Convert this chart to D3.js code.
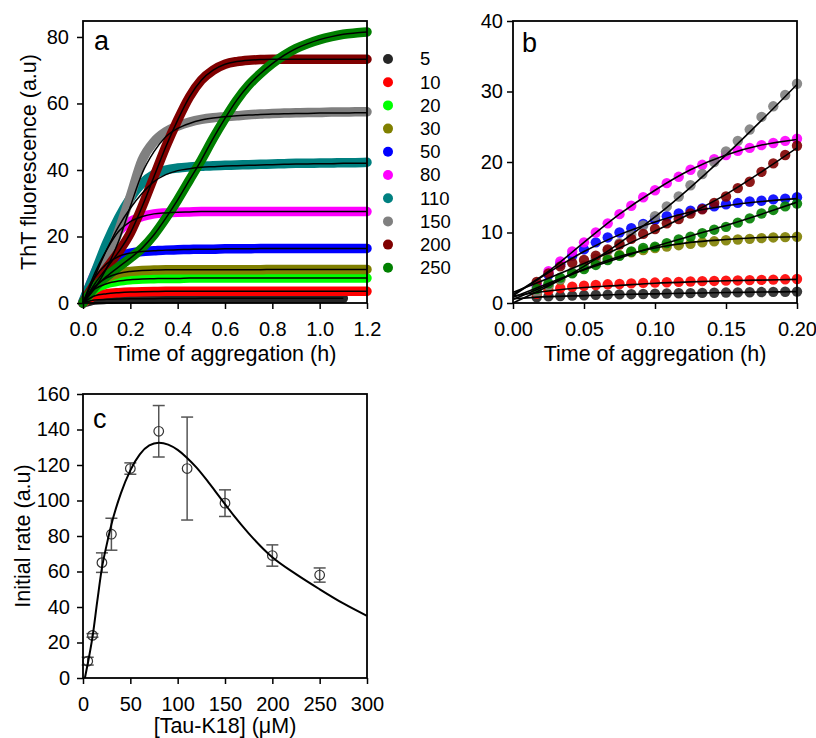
<!DOCTYPE html>
<html>
<head>
<meta charset="utf-8">
<script src="https://cdn.jsdelivr.net/npm/d3@7"></script>
<style>
body { margin: 0; background: #fff; }
svg { font-family: "Liberation Sans", Arial, sans-serif; }
</style>
</head>
<body>
<div id="vis"></div>
<script>
// concentrations of Tau-K18 (uM) and their colours
const concentrations = [5, 10, 20, 30, 50, 80, 110, 150, 200, 250]
const colors = ['#262626', '#ff0000', '#00ff00', '#808000', '#0000ff', '#ff00ff', '#008080', '#808080', '#800000', '#008000']

// panel a : ThT fluorescence vs time (h)
const timesA = [0, 0.05, 0.1, 0.15, 0.2, 0.25, 0.3, 0.35, 0.4, 0.45, 0.5, 0.55, 0.6, 0.65, 0.7, 0.75, 0.8, 0.85, 0.9, 0.95, 1.0, 1.05, 1.1, 1.15, 1.2]
const a5   = [0, 0.9, 1.1, 1.2, 1.25, 1.3, 1.3, 1.35, 1.35, 1.35, 1.4, 1.4, 1.4, 1.4, 1.4, 1.4, 1.4, 1.4, 1.4, 1.4, 1.4, 1.4, 1.4]
const a10  = [0, 2.2, 2.8, 3.1, 3.3, 3.4, 3.45, 3.5, 3.5, 3.5, 3.5, 3.5, 3.5, 3.5, 3.5, 3.5, 3.5, 3.5, 3.5, 3.5, 3.5, 3.5, 3.5, 3.5, 3.5]
const a20  = [0, 4.2, 5.8, 6.6, 7.0, 7.2, 7.3, 7.4, 7.4, 7.5, 7.5, 7.5, 7.5, 7.5, 7.5, 7.5, 7.5, 7.5, 7.5, 7.5, 7.5, 7.5, 7.5, 7.5, 7.5]
const a30  = [0, 5.0, 7.6, 8.9, 9.5, 9.8, 9.9, 10, 10, 10, 10, 10, 10, 10, 10, 10, 10.1, 10.1, 10.1, 10.1, 10.1, 10.1, 10.1, 10.1, 10.1]
const a50  = [0, 7.6, 11.8, 14.0, 15.0, 15.5, 15.7, 15.9, 16.0, 16.1, 16.2, 16.2, 16.3, 16.3, 16.3, 16.4, 16.4, 16.4, 16.4, 16.4, 16.4, 16.4, 16.4, 16.4, 16.4]
const a80  = [0, 9.0, 16.0, 21.5, 24.5, 26.0, 26.8, 27.1, 27.3, 27.4, 27.5, 27.5, 27.5, 27.5, 27.5, 27.5, 27.5, 27.5, 27.5, 27.5, 27.5, 27.5, 27.5, 27.5, 27.5]
const a110 = [0.5, 9, 18, 25.5, 31.5, 36, 38.7, 40, 40.6, 40.9, 41.1, 41.3, 41.4, 41.5, 41.6, 41.7, 41.8, 41.9, 42, 42, 42.1, 42.1, 42.2, 42.2, 42.3]
const a150 = [0, 5.3, 12.3, 21.5, 32, 43, 48.5, 51.5, 53.2, 54.4, 55.2, 55.7, 56, 56.3, 56.6, 56.8, 57, 57.1, 57.2, 57.3, 57.3, 57.4, 57.4, 57.5, 57.5]
const a200 = [0, 5.8, 10.5, 15.3, 21, 29, 38, 47, 55, 62, 67, 70, 71.8, 72.6, 73, 73.2, 73.3, 73.3, 73.3, 73.3, 73.3, 73.3, 73.3, 73.3, 73.3]
const a250 = [0, 4.7, 8, 10.8, 13.5, 16.5, 20.5, 25.5, 31, 37, 43, 49.5, 55.5, 61, 65.5, 69, 72, 74.5, 76.5, 78, 79.2, 80.1, 80.8, 81.2, 81.5]
// fitted curves that visibly differ from the data
const fitA110 = [0, 8, 16, 23, 28.5, 33, 36.5, 38.6, 39.8, 40.4, 40.8, 41, 41.2, 41.3, 41.4, 41.5, 41.6, 41.7, 41.8, 41.8, 41.9, 41.9, 42, 42, 42]
const fitA150 = [0, 4.5, 10.5, 18.5, 29, 39, 45.5, 50, 52.5, 54, 55, 55.6, 56, 56.3, 56.5, 56.7, 56.8, 56.9, 57, 57, 57.1, 57.1, 57.1, 57.2, 57.2]

// panel b : first 0.2 h, one reading every 30 s
const timesB = [0.0167, 0.025, 0.0333, 0.0417, 0.05, 0.0583, 0.0667, 0.075, 0.0833, 0.0917, 0.1, 0.1083, 0.1167, 0.125, 0.1333, 0.1417, 0.15, 0.1583, 0.1667, 0.175, 0.1833, 0.1917, 0.2]
const b5   = [0.8, 0.95, 1.0, 1.05, 1.1, 1.15, 1.18, 1.22, 1.25, 1.28, 1.32, 1.35, 1.38, 1.4, 1.43, 1.46, 1.48, 1.5, 1.53, 1.55, 1.58, 1.6, 1.62]
const b10  = [1.3, 1.8, 2.1, 2.3, 2.45, 2.55, 2.65, 2.7, 2.78, 2.85, 2.9, 2.95, 3.0, 3.05, 3.1, 3.13, 3.17, 3.2, 3.25, 3.28, 3.32, 3.36, 3.4]
const b30  = [1.5, 2.4, 3.3, 4.3, 5.1, 5.8, 6.3, 6.8, 7.2, 7.5, 7.8, 8.0, 8.2, 8.4, 8.6, 8.75, 8.9, 9.0, 9.1, 9.2, 9.3, 9.35, 9.4]
const b50  = [2.5, 4.0, 5.5, 6.7, 7.6, 8.6, 9.3, 10.0, 10.6, 11.2, 11.8, 12.3, 12.7, 13.1, 13.4, 13.7, 14.0, 14.2, 14.4, 14.5, 14.7, 14.8, 15.0]
const b80  = [2.5, 4.5, 5.9, 7.3, 8.6, 10.0, 11.3, 12.6, 13.8, 15.0, 16.0, 17.0, 17.9, 18.9, 19.6, 20.4, 21.0, 21.6, 22.0, 22.4, 22.7, 23.0, 23.3]
const b150 = [1.5, 2.5, 3.4, 4.3, 5.3, 6.3, 7.4, 8.5, 9.7, 11.0, 12.3, 13.7, 15.1, 16.7, 18.3, 20.0, 21.5, 23.0, 24.6, 26.4, 27.9, 29.5, 31.1]
const b200 = [3.0, 4.2, 5.2, 5.7, 6.1, 6.7, 7.6, 8.3, 9.1, 9.8, 10.5, 11.3, 11.9, 12.7, 13.3, 14.2, 15.1, 16.3, 17.2, 18.6, 19.8, 21.0, 22.3]
const b250 = [2.0, 2.8, 3.6, 4.2, 4.8, 5.4, 6.1, 6.7, 7.3, 7.8, 8.0, 8.5, 9.0, 9.4, 9.9, 10.4, 10.8, 11.4, 12.0, 12.7, 13.2, 13.7, 14.1]
const fitTimesB = [0, 0.025, 0.05, 0.075, 0.1, 0.125, 0.15, 0.175, 0.2]
const fitB5   = [0.6, 0.9, 1.05, 1.2, 1.3, 1.4, 1.48, 1.55, 1.62]
const fitB10  = [1.0, 1.7, 2.2, 2.5, 2.8, 3.0, 3.15, 3.25, 3.35]
const fitB30  = [0.5, 2.6, 4.8, 6.6, 7.8, 8.6, 9.0, 9.3, 9.4]
const fitB50  = [1.0, 4.3, 7.3, 9.7, 11.5, 12.9, 13.8, 14.4, 14.8]
const fitB80  = [1.2, 4.5, 8.6, 12.6, 16.0, 18.9, 21.0, 22.4, 23.2]
const fitB150 = [0, 2.4, 5.2, 8.5, 12.2, 16.4, 21, 25.9, 31]
const fitB200 = [1.5, 3.5, 5.6, 7.8, 10.2, 12.7, 15.4, 18.6, 22.0]
const fitB250 = [0.8, 2.8, 4.7, 6.4, 8.0, 9.5, 11.0, 12.6, 14.3]

// panel c : initial rate vs [Tau-K18]
const tauConc = [5, 10, 20, 30, 50, 80, 110, 150, 200, 250]
const initialRate = [9.5, 24, 65, 81, 118, 139, 118, 98.5, 69, 58]
const rateError = [2.2, 1, 5.5, 9, 3.2, 14.5, 29, 7.5, 6, 4]
const fitConcC = [2, 5, 10, 15, 20, 25, 30, 40, 50, 60, 70, 80, 90, 100, 110, 120, 130, 140, 150, 160, 175, 200, 225, 250, 275, 300]
const fitRateC = [0, 8, 23, 43, 62, 75, 86.5, 104, 117, 126, 131, 132.5, 131.5, 128.5, 124, 118.5, 112, 105, 98, 91, 81.5, 68, 58.5, 50, 42, 35]

const ticksAx = [0, 0.2, 0.4, 0.6, 0.8, 1.0, 1.2]
const ticksAy = [0, 20, 40, 60, 80]
const ticksBx = [0, 0.05, 0.1, 0.15, 0.2]
const ticksBy = [0, 10, 20, 30, 40]
const ticksCx = [0, 50, 100, 150, 200, 250, 300]
const ticksCy = [0, 20, 40, 60, 80, 100, 120, 140, 160]

let svg
let xA, yA, xB, yB, xC, yC

function createScales(){
    xA = d3.scaleLinear([0, 1.2], [83, 367])
    yA = d3.scaleLinear([0, 84.8], [303, 21])
    xB = d3.scaleLinear([0, 0.2], [513, 797])
    yB = d3.scaleLinear([0, 40], [303, 21])
    xC = d3.scaleLinear([0, 300], [83, 367])
    yC = d3.scaleLinear([0, 160], [678, 394])
}

// box + left/bottom axes
function drawAxes(x, y, xt, yt, xfmt, padL){
    svg.append('g')
        .attr('transform', `translate(0,${y.range()[0]})`)
        .call(d3.axisBottom(x).tickValues(xt).tickFormat(xfmt).tickSize(6).tickPadding(13).tickSizeOuter(0))
        .call(g => g.select('.domain').remove())
        .call(g => g.selectAll('.tick line').attr('stroke-width', 1.5))
        .attr('font-size', 20).attr('font-family', null)

    svg.append('g')
        .attr('transform', `translate(${x.range()[0]},0)`)
        .call(d3.axisLeft(y).tickValues(yt).tickSize(6).tickPadding(padL).tickSizeOuter(0))
        .call(g => g.select('.domain').remove())
        .call(g => g.selectAll('.tick line').attr('stroke-width', 1.5))
        .attr('font-size', 20).attr('font-family', null)

    svg.append('rect')
        .attr('x', x.range()[0]).attr('y', y.range()[1])
        .attr('width', x.range()[1] - x.range()[0])
        .attr('height', y.range()[0] - y.range()[1])
        .attr('fill', 'none').attr('stroke', 'black').attr('stroke-width', 1.8)
}

function drawPanelA(){
    const dataA = [a5, a10, a20, a30, a50, a80, a110, a150, a200, a250]
    const fitsA = [a5, a10, a20, a30, a50, a80, fitA110, fitA150, a200, a250]
    const line = d3.line()
        .x((d, i) => xA(timesA[i]))
        .y(d => yA(d))
        .curve(d3.curveMonotoneX)

    dataA.forEach((vals, k) => {
        svg.append('path')
            .attr('d', line(vals))
            .attr('fill', 'none')
            .attr('stroke', colors[k])
            .attr('stroke-width', 9.5)
            .attr('stroke-linecap', 'round')
            .attr('stroke-linejoin', 'round')
    })
    fitsA.forEach(vals => {
        svg.append('path')
            .attr('d', line(vals))
            .attr('fill', 'none')
            .attr('stroke', 'black')
            .attr('stroke-width', 1.5)
    })

    drawAxes(xA, yA, ticksAx, ticksAy, d3.format('.1f'), 8)

    svg.append('text').text('a')
        .attr('x', 94).attr('y', 50).attr('font-size', 27)

    // legend
    const legend = svg.append('g')
    concentrations.forEach((c, i) => {
        let ly = 59 + i * 23.2
        legend.append('circle').attr('cx', 388).attr('cy', ly).attr('r', 5).attr('fill', colors[i])
        legend.append('text').text(c)
            .attr('x', 420).attr('y', ly).attr('dy', '0.35em').attr('font-size', 18.5)
    })

    svg.append('text').text('Time of aggregation (h)')
        .attr('x', 225).attr('y', 361).attr('text-anchor', 'middle').attr('font-size', 21.5)
    svg.append('text').text('ThT fluorescence (a.u)')
        .attr('transform', `translate(36,${(303 + 21) / 2}) rotate(-90)`)
        .attr('text-anchor', 'middle').attr('font-size', 21.5)
}

function drawPanelB(){
    const dataB = [b5, b10, b30, b50, b80, b150, b200, b250]
    const fitsB = [fitB5, fitB10, fitB30, fitB50, fitB80, fitB150, fitB200, fitB250]
    const colB = [colors[0], colors[1], colors[3], colors[4], colors[5], colors[7], colors[8], colors[9]]

    svg.append('clipPath').attr('id', 'clipB')
        .append('rect').attr('x', 513).attr('y', 21).attr('width', 284).attr('height', 282)

    dataB.forEach((vals, k) => {
        svg.append('g').selectAll('circle')
            .data(vals)
            .enter()
            .append('circle')
                .attr('cx', (d, i) => xB(timesB[i]))
                .attr('cy', d => yB(d))
                .attr('r', 5.2)
                .attr('fill', colB[k])
                .attr('opacity', 0.9)
    })

    const line = d3.line()
        .x((d, i) => xB(fitTimesB[i]))
        .y(d => yB(d))
        .curve(d3.curveMonotoneX)
    fitsB.forEach(vals => {
        svg.append('path')
            .attr('d', line(vals))
            .attr('clip-path', 'url(#clipB)')
            .attr('fill', 'none')
            .attr('stroke', 'black')
            .attr('stroke-width', 1.6)
    })

    drawAxes(xB, yB, ticksBx, ticksBy, d3.format('.2f'), 4)

    svg.append('text').text('b')
        .attr('x', 522).attr('y', 52).attr('font-size', 27)
    svg.append('text').text('Time of aggregation (h)')
        .attr('x', 655).attr('y', 361).attr('text-anchor', 'middle').attr('font-size', 21.5)
}

function drawPanelC(){
    // error bars
    const bars = svg.append('g').attr('stroke', '#555').attr('stroke-width', 1.5)
    tauConc.forEach((c, i) => {
        let x = xC(c), lo = yC(initialRate[i] - rateError[i]), hi = yC(initialRate[i] + rateError[i])
        bars.append('line').attr('x1', x).attr('x2', x).attr('y1', lo).attr('y2', hi)
        bars.append('line').attr('x1', x - 6).attr('x2', x + 6).attr('y1', lo).attr('y2', lo)
        bars.append('line').attr('x1', x - 6).attr('x2', x + 6).attr('y1', hi).attr('y2', hi)
    })

    svg.append('g').selectAll('circle')
        .data(tauConc)
        .enter()
        .append('circle')
            .attr('cx', d => xC(d))
            .attr('cy', (d, i) => yC(initialRate[i]))
            .attr('r', 4.8)
            .attr('fill', 'none')
            .attr('stroke', '#333')
            .attr('stroke-width', 1.2)

    const line = d3.line()
        .x(d => xC(d))
        .y((d, i) => yC(fitRateC[i]))
        .curve(d3.curveMonotoneX)
    svg.append('path')
        .attr('d', line(fitConcC))
        .attr('fill', 'none')
        .attr('stroke', 'black')
        .attr('stroke-width', 2)

    drawAxes(xC, yC, ticksCx, ticksCy, d3.format('d'), 7)

    svg.append('text').text('c')
        .attr('x', 93).attr('y', 428).attr('font-size', 27)
    svg.append('text').text('[Tau-K18] (\u03bcM)')
        .attr('x', 225).attr('y', 733).attr('text-anchor', 'middle').attr('font-size', 21.5)
    svg.append('text').text('Initial rate (a.u)')
        .attr('transform', `translate(30,${(678 + 394) / 2}) rotate(-90)`)
        .attr('text-anchor', 'middle').attr('font-size', 21.5)
}

svg = d3.select('#vis')
    .append('svg')
    .attr('width', 816)
    .attr('height', 738)

createScales()
drawPanelA()
drawPanelB()
drawPanelC()
</script>
</body>
</html>
